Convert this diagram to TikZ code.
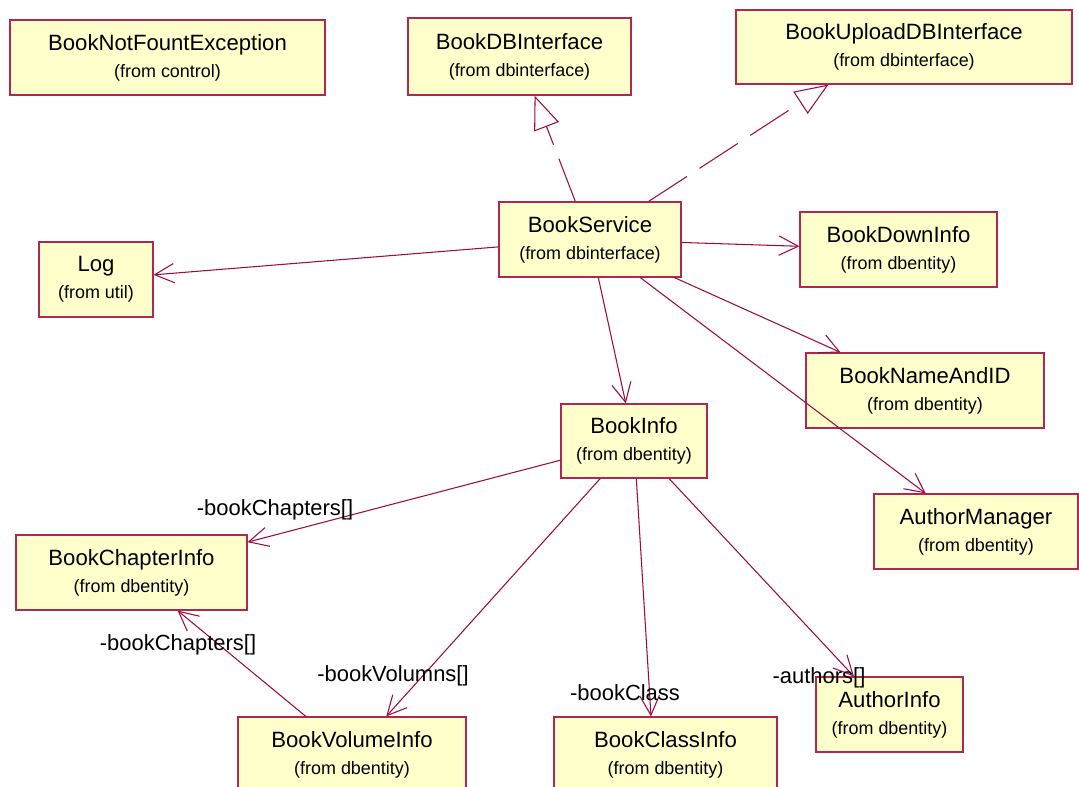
\documentclass[tikz,border=0pt]{standalone}
\usepackage{fontspec}
\setmainfont{Liberation Sans}
\usetikzlibrary{arrows.meta,calc}
\definecolor{linkcol}{RGB}{158,10,68}
\definecolor{edgecol}{RGB}{176,40,82}
\definecolor{boxfill}{RGB}{255,255,204}
\newcommand{\pkgfont}{\fontsize{10.2}{15.4}\selectfont}
\begin{document}
\begin{tikzpicture}[x=0.02cm,y=-0.02cm,
  cls/.style={draw=edgecol, fill=boxfill, line width=0.7pt, rectangle,
    minimum height=1.5cm, inner sep=0pt, align=center,
    font=\fontsize{12.6}{15.4}\selectfont},
  assoc/.style={draw=linkcol, line width=0.6pt,
    -{Straight Barb[length=11pt,width=11pt,line width=0.6pt]}},
  realize/.style={draw=linkcol, line width=0.6pt, dash pattern=on 26pt off 8.5pt,
    -{Triangle[open,length=19pt,width=15pt,line width=0.6pt,fill=white]}},
  role/.style={inner sep=0pt, font=\fontsize{12.5}{14}\selectfont}]
\useasboundingbox (0,0) rectangle (1079,787);
\fill[white] (0,0) rectangle (1079,787);

% classes
\node[cls, minimum width=6.30cm] (bnfe) at (167.5,57.5) {BookNotFountException\\\pkgfont (from control)};
\node[cls, minimum width=4.46cm, minimum height=1.54cm] (dbi) at (519.5,56.5) {BookDBInterface\\\pkgfont (from dbinterface)};
\node[cls, minimum width=6.72cm, minimum height=1.48cm] (upl) at (904,47) {BookUploadDBInterface\\\pkgfont (from dbinterface)};
\node[cls, minimum width=3.64cm] (svc) at (590,239.5) {BookService\\\pkgfont (from dbinterface)};
\node[cls, minimum width=2.28cm] (log) at (96,279.5) {Log\\\pkgfont (from util)};
\node[cls, minimum width=3.94cm] (down) at (898.5,249.5) {BookDownInfo\\\pkgfont (from dbentity)};
\node[cls, minimum width=4.76cm] (nameid) at (925,390.5) {BookNameAndID\\\pkgfont (from dbentity)};
\node[cls, minimum width=4.08cm] (amgr) at (976,531.5) {AuthorManager\\\pkgfont (from dbentity)};
\node[cls, minimum width=2.92cm, minimum height=1.48cm] (binfo) at (634,441) {BookInfo\\\pkgfont (from dbentity)};
\node[cls, minimum width=4.62cm] (chap) at (131.5,572.5) {BookChapterInfo\\\pkgfont (from dbentity)};
\node[cls, minimum width=4.56cm] (vol) at (352,754.5) {BookVolumeInfo\\\pkgfont (from dbentity)};
\node[cls, minimum width=4.46cm] (bcls) at (665.5,754.5) {BookClassInfo\\\pkgfont (from dbentity)};
\node[cls, minimum width=2.94cm] (ainfo) at (889.5,714.5) {AuthorInfo\\\pkgfont (from dbentity)};

% realizations
\draw[realize] (svc) -- (dbi);
\draw[realize] (svc) -- ($(upl.south west)+(93,0)$);

% dependencies of BookService
\draw[assoc] (svc) -- (log);
\draw[assoc] (svc) -- (down);
\draw[assoc] (svc) -- (nameid);
\draw[assoc] (svc) -- (amgr);
\draw[assoc] (svc) -- (binfo);

% associations
\draw[assoc] (binfo) -- (chap);
\draw[assoc] (binfo) -- (vol);
\draw[assoc] (binfo) -- ($(bcls.north)+(-14.5,0)$);
\draw[assoc] (binfo) -- (ainfo);
\draw[assoc] (vol) -- (chap);

% role names
\node[role] (r1) at (275,510) {-bookChapters[]};
\node[role] (r2) at (178,645) {-bookChapters[]};
\node[role] (r3) at (393,676) {-bookVolumns[]};
\node[role] (r4) at (625,693) {-bookClass};
\node[role] (r5) at (819,678) {-authors[]};
\end{tikzpicture}
\end{document}
